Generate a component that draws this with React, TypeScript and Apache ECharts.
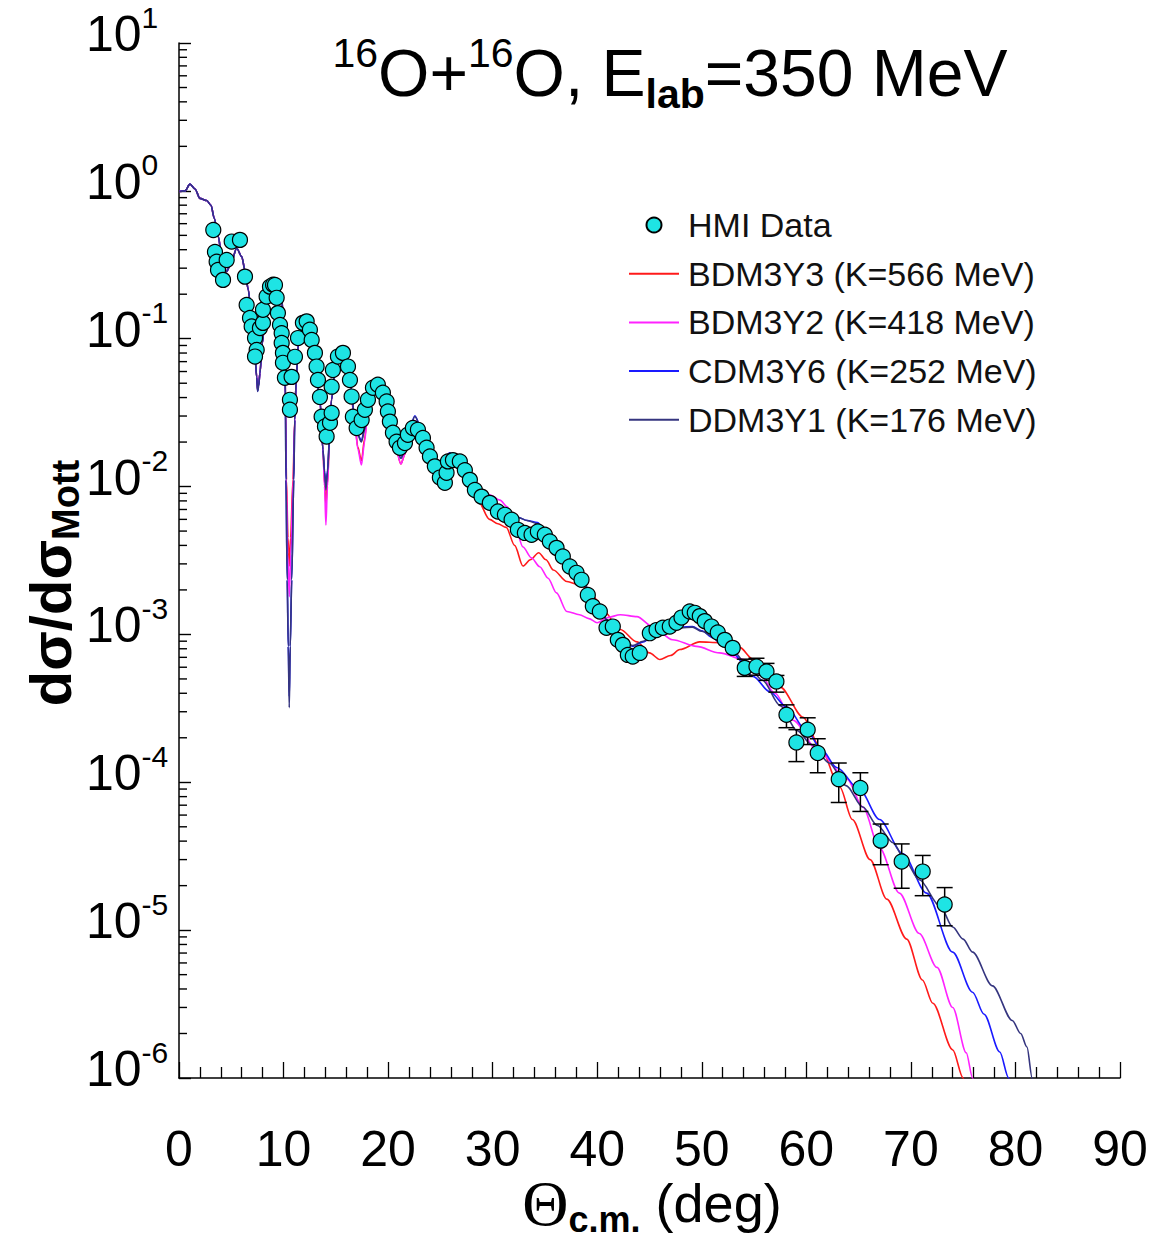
import React, { useEffect, useRef } from "react";
import * as echarts from "echarts";

// ---- tick labels -----------------------------------------------------------
const xTickValues = [0, 10, 20, 30, 40, 50, 60, 70, 80, 90];
const yDecades = [-6, -5, -4, -3, -2, -1, 0];
const yMantissas = [2, 3, 4, 5, 6, 7, 8, 9];

// ---- measured cross sections: [theta_cm (deg), dsigma/dsigma_Mott] ---------
const hmiData: number[][] = [
  [3.28, 0.544], [3.44, 0.386], [3.6, 0.332], [3.73, 0.292], [4.21, 0.25], [4.56, 0.341],
  [5.04, 0.454], [5.83, 0.466], [6.31, 0.263], [6.47, 0.169], [6.79, 0.138], [6.95, 0.121],
  [7.27, 0.101], [7.43, 0.084], [7.27, 0.0757], [7.74, 0.118], [8.03, 0.128], [8.03, 0.157],
  [8.38, 0.193], [8.7, 0.225], [9.0, 0.232], [9.18, 0.231], [9.34, 0.189], [9.46, 0.149],
  [9.66, 0.124], [9.82, 0.109], [9.82, 0.0937], [9.94, 0.0802], [9.94, 0.0687], [10.13, 0.0544],
  [10.61, 0.0386], [10.61, 0.0331], [10.77, 0.0552], [11.09, 0.0754], [11.38, 0.101], [11.85, 0.128],
  [12.21, 0.131], [12.52, 0.115], [12.69, 0.098], [13.0, 0.0802], [13.16, 0.0648], [13.29, 0.0526],
  [13.48, 0.0404], [13.64, 0.0297], [13.96, 0.0255], [14.12, 0.0218], [14.44, 0.027], [14.6, 0.0315],
  [14.6, 0.0474], [14.72, 0.0615], [15.2, 0.0757], [15.68, 0.0802], [16.16, 0.0648], [16.35, 0.0526],
  [16.51, 0.0406], [16.63, 0.0297], [16.99, 0.0249], [17.47, 0.0282], [17.78, 0.0331], [18.07, 0.0386],
  [18.55, 0.0466], [19.02, 0.0488], [19.5, 0.0431], [19.86, 0.0376], [19.98, 0.0322], [20.17, 0.0275],
  [20.46, 0.0231], [20.81, 0.0201], [21.13, 0.0183], [21.61, 0.0197], [21.89, 0.0224], [22.37, 0.0249],
  [22.85, 0.0242], [23.33, 0.0213], [23.68, 0.0183], [24.0, 0.016], [24.47, 0.0137], [24.95, 0.0115],
  [25.43, 0.0106], [25.59, 0.0124], [25.72, 0.0148], [26.2, 0.0151], [26.86, 0.0148], [27.34, 0.0129],
  [27.82, 0.0111], [28.3, 0.00948], [28.94, 0.00855], [29.73, 0.00776], [30.5, 0.00678], [31.17, 0.00644],
  [31.81, 0.00596], [32.41, 0.0051], [33.08, 0.00486], [33.72, 0.00472], [34.32, 0.00497], [34.99, 0.00472],
  [35.47, 0.00425], [36.11, 0.00385], [36.71, 0.00337], [37.38, 0.00288], [38.02, 0.00261], [38.5, 0.00234],
  [39.1, 0.00185], [39.58, 0.00155], [40.25, 0.00143], [40.89, 0.00111], [41.49, 0.00113], [41.97, 0.000919],
  [42.45, 0.00085], [42.93, 0.000727], [43.4, 0.000709], [44.07, 0.00075], [45.03, 0.00102], [45.67, 0.00107],
  [46.27, 0.00111], [46.94, 0.00113], [47.58, 0.0012], [48.06, 0.0013], [48.85, 0.00143], [49.33, 0.0014],
  [49.81, 0.00133], [50.29, 0.00123], [50.93, 0.00113], [51.53, 0.00103], [52.2, 0.000919], [52.96, 0.000811],
  [54.11, 0.000594], [55.23, 0.000606], [56.19, 0.000561], [57.14, 0.000481], [58.1, 0.000286], [59.05, 0.000186],
  [60.13, 0.000227], [61.09, 0.000158], [63.1, 0.000105], [65.17, 0.0000916], [67.11, 0.0000403],
  [69.12, 0.0000291], [71.13, 0.0000249], [73.23, 0.0000149],
];

// ---- error bars: [theta, lower, upper] -------------------------------------
const hmiErrors: number[][] = [
  [54.11, 0.00052, 0.00068], [55.23, 0.00053, 0.00069], [56.19, 0.000489, 0.000637],
  [57.14, 0.000407, 0.000528], [58.1, 0.000234, 0.000334], [59.05, 0.000138, 0.000227],
  [60.13, 0.00018, 0.000273], [61.09, 0.000116, 0.000197], [63.1, 0.000073, 0.000135],
  [65.17, 0.0000635, 0.000116], [67.11, 0.0000277, 0.0000522], [69.12, 0.0000192, 0.0000383],
  [71.13, 0.0000171, 0.000032], [73.23, 0.0000107, 0.0000194],
];

// ---- folding-model curves --------------------------------------------------
const bdm3y3: number[][] = [
  [0.0, 0.99], [0.57, 1.0], [1.05, 1.11], [1.53, 1.03], [2.0, 0.89], [2.65, 0.86], [3.06, 0.8],
  [3.38, 0.65], [3.76, 0.49], [4.08, 0.36], [4.56, 0.284], [5.0, 0.33], [5.52, 0.409], [6.0, 0.359],
  [6.31, 0.29], [6.63, 0.214], [6.95, 0.134], [7.27, 0.076], [7.43, 0.055], [7.52, 0.045], [7.62, 0.049],
  [7.74, 0.0585], [7.97, 0.093], [8.29, 0.157], [8.7, 0.219], [9.02, 0.243], [9.49, 0.231], [9.82, 0.193],
  [9.97, 0.134], [10.13, 0.08], [10.18, 0.0386], [10.28, 0.0111], [10.42, 0.0045], [10.545, 0.0029],
  [10.67, 0.0045], [10.9, 0.0111], [11.07, 0.0283], [11.21, 0.0527], [11.41, 0.091], [11.85, 0.128],
  [12.1, 0.133], [12.52, 0.105], [13.0, 0.071], [13.48, 0.0386], [13.77, 0.0177], [13.92, 0.0105],
  [14.05, 0.0075], [14.2, 0.0105], [14.39, 0.0207], [14.58, 0.0386], [15.0, 0.066], [15.49, 0.083],
  [15.9, 0.074], [16.35, 0.0515], [16.83, 0.026], [17.1, 0.0185], [17.45, 0.015], [17.75, 0.021],
  [18.07, 0.034], [18.5, 0.045], [19.02, 0.05], [19.5, 0.044], [19.98, 0.033], [20.65, 0.0195],
  [21.22, 0.0142], [21.6, 0.0165], [21.89, 0.0215], [22.56, 0.028], [23.23, 0.0232], [24.0, 0.0155],
  [24.67, 0.0125], [25.24, 0.0142], [25.9, 0.0155], [26.67, 0.0145], [27.34, 0.0128], [28.0, 0.0102],
  [28.6, 0.008], [29.7, 0.006], [30.5, 0.0056], [31.3, 0.0053], [32.1, 0.004], [32.9, 0.0029],
  [33.6, 0.0032], [34.4, 0.00357], [35.1, 0.0032], [35.8, 0.00273], [37.1, 0.00228], [38.3, 0.00216],
  [39.3, 0.002], [40.0, 0.0017], [40.5, 0.00147], [42.2, 0.00108], [43.8, 0.00089], [45.0, 0.00075],
  [46.0, 0.000676], [47.0, 0.00072], [47.9, 0.00079], [49.8, 0.00089], [51.7, 0.00088], [53.6, 0.00082],
  [54.9, 0.00068], [56.2, 0.00055], [57.5, 0.00044], [59.7, 0.000275], [61.3, 0.000174], [63.2, 0.000093],
  [64.4, 0.000056], [66.1, 0.00003], [67.7, 0.0000162], [69.6, 0.0000087], [71.1, 0.0000046],
  [72.1, 0.0000032], [74.0, 0.00000155], [75.0, 0.000001], [75.4, 0.0000007],
];

const bdm3y2: number[][] = [
  [0.0, 0.99], [0.57, 1.0], [1.05, 1.11], [1.53, 1.03], [2.0, 0.89], [2.65, 0.86], [3.06, 0.8],
  [3.38, 0.65], [3.76, 0.49], [4.08, 0.36], [4.56, 0.284], [5.0, 0.33], [5.52, 0.409], [6.0, 0.359],
  [6.31, 0.29], [6.63, 0.214], [6.95, 0.134], [7.27, 0.076], [7.43, 0.056], [7.52, 0.046], [7.62, 0.05],
  [7.74, 0.0585], [7.97, 0.093], [8.29, 0.157], [8.7, 0.219], [9.02, 0.243], [9.49, 0.231], [9.82, 0.193],
  [9.97, 0.134], [10.13, 0.08], [10.18, 0.0386], [10.26, 0.0111], [10.4, 0.0035], [10.545, 0.0018],
  [10.69, 0.0035], [10.93, 0.0111], [11.07, 0.0283], [11.21, 0.0527], [11.41, 0.091], [11.85, 0.128],
  [12.1, 0.133], [12.52, 0.105], [13.0, 0.071], [13.48, 0.0386], [13.77, 0.0177], [13.92, 0.01],
  [14.05, 0.0055], [14.2, 0.01], [14.39, 0.0207], [14.58, 0.0386], [15.0, 0.066], [15.49, 0.083],
  [15.9, 0.074], [16.35, 0.0515], [16.83, 0.026], [17.1, 0.018], [17.45, 0.014], [17.75, 0.02],
  [18.07, 0.034], [18.5, 0.045], [19.02, 0.05], [19.5, 0.044], [19.98, 0.033], [20.65, 0.0195],
  [21.22, 0.0142], [21.6, 0.0165], [21.89, 0.0215], [22.56, 0.028], [23.23, 0.0232], [24.0, 0.0155],
  [24.67, 0.0125], [25.24, 0.0145], [25.9, 0.016], [26.67, 0.015], [27.34, 0.013], [28.3, 0.0102],
  [29.0, 0.009], [29.7, 0.0088], [30.7, 0.0081], [31.4, 0.0073], [32.1, 0.0055], [32.9, 0.0039],
  [33.7, 0.0033], [34.5, 0.00287], [35.3, 0.0024], [36.1, 0.00191], [37.1, 0.00143], [38.3, 0.00136],
  [39.2, 0.00128], [40.0, 0.0012], [41.0, 0.0013], [42.2, 0.00136], [43.8, 0.00132], [45.3, 0.00113],
  [47.2, 0.00092], [49.5, 0.00083], [51.7, 0.00075], [53.9, 0.00068], [55.5, 0.00055], [57.0, 0.0004],
  [58.7, 0.000263], [61.3, 0.000158], [63.9, 0.000105], [65.4, 0.000068], [67.0, 0.000036],
  [68.9, 0.0000178], [70.8, 0.0000095], [72.5, 0.0000056], [74.0, 0.000003], [75.3, 0.00000148],
  [75.9, 0.000001], [76.3, 0.0000007],
];

const cdm3y6: number[][] = [
  [0.0, 0.99], [0.57, 1.0], [1.05, 1.11], [1.53, 1.03], [2.0, 0.89], [2.65, 0.86], [3.06, 0.8],
  [3.38, 0.65], [3.76, 0.49], [4.08, 0.36], [4.56, 0.284], [5.0, 0.33], [5.52, 0.409], [6.0, 0.359],
  [6.31, 0.29], [6.63, 0.214], [6.95, 0.134], [7.27, 0.076], [7.43, 0.055], [7.52, 0.044], [7.62, 0.048],
  [7.74, 0.0585], [7.97, 0.093], [8.29, 0.157], [8.7, 0.219], [9.02, 0.243], [9.49, 0.231], [9.82, 0.193],
  [9.97, 0.134], [10.13, 0.08], [10.18, 0.0386], [10.23, 0.0111], [10.35, 0.00234], [10.45, 0.00083],
  [10.545, 0.00038], [10.64, 0.00083], [10.78, 0.00234], [10.98, 0.0111], [11.07, 0.0283], [11.21, 0.0527],
  [11.41, 0.091], [11.85, 0.128], [12.1, 0.134], [12.52, 0.106], [13.0, 0.072], [13.48, 0.0386],
  [13.77, 0.0177], [13.92, 0.0128], [14.05, 0.0102], [14.2, 0.0128], [14.39, 0.0207], [14.58, 0.0386],
  [15.0, 0.067], [15.49, 0.084], [15.9, 0.075], [16.35, 0.0526], [16.83, 0.0283], [17.1, 0.0225],
  [17.45, 0.0205], [17.75, 0.0245], [18.07, 0.0357], [18.5, 0.046], [19.02, 0.0511], [19.5, 0.045],
  [19.98, 0.034], [20.65, 0.0207], [21.22, 0.0156], [21.6, 0.0175], [21.89, 0.0224], [22.56, 0.0301],
  [23.23, 0.0242], [24.0, 0.0164], [24.67, 0.0134], [25.24, 0.0151], [25.9, 0.0169], [26.67, 0.0151],
  [27.34, 0.0129], [28.3, 0.0095], [29.0, 0.0083], [29.73, 0.0078], [30.5, 0.0071], [31.4, 0.0066],
  [32.4, 0.0062], [33.3, 0.0059], [34.3, 0.0057], [35.0, 0.005], [35.5, 0.0043], [36.5, 0.0036],
  [37.5, 0.003], [38.3, 0.00262], [39.2, 0.002], [40.2, 0.0015], [40.9, 0.00126], [42.0, 0.001],
  [43.4, 0.00083], [44.4, 0.00089], [45.5, 0.001], [46.65, 0.00108], [48.0, 0.00112], [49.1, 0.00113],
  [50.0, 0.00106], [51.05, 0.00095], [52.0, 0.00084], [53.0, 0.00074], [54.9, 0.00052], [56.5, 0.00041],
  [58.1, 0.000324], [60.0, 0.000224], [61.5, 0.000165], [62.9, 0.000126], [65.1, 0.000089],
  [67.0, 0.000056], [69.2, 0.000033], [71.5, 0.0000178], [74.0, 0.0000071], [75.9, 0.0000038],
  [77.0, 0.0000027], [78.5, 0.0000015], [79.35, 0.000001], [79.8, 0.0000007],
];

const ddm3y1: number[][] = [
  [0.0, 0.99], [0.57, 1.0], [1.05, 1.11], [1.53, 1.03], [2.0, 0.89], [2.65, 0.86], [3.06, 0.8],
  [3.38, 0.65], [3.76, 0.49], [4.08, 0.36], [4.56, 0.284], [5.0, 0.33], [5.52, 0.409], [6.0, 0.359],
  [6.31, 0.29], [6.63, 0.214], [6.95, 0.134], [7.27, 0.076], [7.43, 0.055], [7.52, 0.044], [7.62, 0.048],
  [7.74, 0.0585], [7.97, 0.093], [8.29, 0.157], [8.7, 0.219], [9.02, 0.243], [9.49, 0.231], [9.82, 0.193],
  [9.97, 0.134], [10.13, 0.08], [10.18, 0.0386], [10.23, 0.0111], [10.35, 0.00234], [10.45, 0.00083],
  [10.545, 0.00032], [10.64, 0.00083], [10.78, 0.00234], [10.98, 0.0111], [11.07, 0.0283], [11.21, 0.0527],
  [11.41, 0.091], [11.85, 0.128], [12.1, 0.134], [12.52, 0.106], [13.0, 0.072], [13.48, 0.0386],
  [13.77, 0.0177], [13.92, 0.0125], [14.05, 0.0095], [14.2, 0.0125], [14.39, 0.0207], [14.58, 0.0386],
  [15.0, 0.067], [15.49, 0.084], [15.9, 0.075], [16.35, 0.0526], [16.83, 0.0283], [17.1, 0.0222],
  [17.45, 0.02], [17.75, 0.0242], [18.07, 0.0357], [18.5, 0.046], [19.02, 0.0511], [19.5, 0.045],
  [19.98, 0.034], [20.65, 0.0207], [21.22, 0.0155], [21.6, 0.0175], [21.89, 0.0224], [22.56, 0.0298],
  [23.23, 0.024], [24.0, 0.0163], [24.67, 0.0133], [25.24, 0.015], [25.9, 0.0168], [26.67, 0.015],
  [27.34, 0.0128], [28.3, 0.0095], [29.0, 0.0083], [29.73, 0.0078], [30.5, 0.0071], [31.4, 0.0066],
  [32.4, 0.0062], [33.3, 0.0059], [34.3, 0.0056], [35.0, 0.005], [35.5, 0.0043], [36.5, 0.0036],
  [37.5, 0.003], [38.3, 0.00262], [39.2, 0.002], [40.2, 0.0015], [40.9, 0.00126], [42.0, 0.001],
  [43.4, 0.00084], [44.4, 0.0009], [45.5, 0.001], [46.65, 0.00107], [48.0, 0.00111], [49.1, 0.00112],
  [50.0, 0.00105], [51.05, 0.00097], [51.7, 0.00088], [53.0, 0.00077], [54.5, 0.0006], [55.8, 0.00049],
  [57.5, 0.00033], [59.1, 0.000224], [60.5, 0.00018], [62.2, 0.000135], [63.8, 0.000095],
  [65.4, 0.000068], [66.8, 0.000051], [68.3, 0.000039], [69.5, 0.000029], [70.8, 0.0000219],
  [72.8, 0.0000145], [74.0, 0.0000105], [75.0, 0.0000087], [75.9, 0.0000071], [77.8, 0.0000042],
  [79.7, 0.00000245], [80.5, 0.000002], [81.1, 0.00000162], [81.6, 0.000001], [81.9, 0.0000007],
];

const seriesNames = [
  "HMI Data",
  "BDM3Y3 (K=566 MeV)",
  "BDM3Y2 (K=418 MeV)",
  "CDM3Y6 (K=252 MeV)",
  "DDM3Y1 (K=176 MeV)",
];
const curveColors = ["#ff1a1a", "#ff22ff", "#1a1aff", "#35357f"];

const SANS = 'Arial, "Liberation Sans", Helvetica, sans-serif';
const SERIF = '"Liberation Serif", "Times New Roman", serif';

function buildOption() {
  const yMinorTicks: number[][] = [];
  yDecades.forEach((d) =>
    yMantissas.forEach((m) => yMinorTicks.push([0, m * Math.pow(10, d)]))
  );

  const curves = [bdm3y3, bdm3y2, cdm3y6, ddm3y1].map((data, i) => ({
    type: "line",
    name: seriesNames[i + 1],
    data,
    symbol: "none",
    showSymbol: false,
    smooth: 0.3,
    smoothMonotone: "x",
    lineStyle: { color: curveColors[i], width: 1.6 },
    itemStyle: { color: curveColors[i] },
    emphasis: { disabled: true },
    z: 2,
  }));

  // legend rows: the data row keeps its marker, model rows show only a line
  const legendData = seriesNames.map((name, i) =>
    i === 0 ? { name } : { name, itemStyle: { opacity: 0 } }
  );

  return {
    animation: false,
    backgroundColor: "#ffffff",
    grid: { left: 179, top: 43, width: 941, height: 1035, containLabel: false },
    legend: {
      data: legendData,
      orient: "vertical",
      left: 628,
      top: 208,
      padding: 0,
      itemWidth: 50,
      itemHeight: 15,
      itemGap: 14.7,
      selectedMode: false,
      textStyle: {
        fontSize: 34,
        fontFamily: SANS,
        color: "#111",
        lineHeight: 34,
        padding: [0, 0, 0, 4],
      },
    },
    xAxis: {
      type: "value",
      min: 0,
      max: 90,
      interval: 10,
      axisLine: { show: true, onZero: false, lineStyle: { color: "#000", width: 1.5 } },
      axisTick: { show: true, inside: true, length: 16, lineStyle: { color: "#000", width: 1.3 } },
      minorTick: { show: true, splitNumber: 5, length: 11, lineStyle: { color: "#000", width: 1.3 } },
      splitLine: { show: false },
      axisLabel: {
        color: "#000",
        fontSize: 50,
        fontFamily: SANS,
        margin: 46,
        formatter: (v: number) => (xTickValues.includes(v) ? String(v) : ""),
      },
    },
    yAxis: {
      type: "log",
      logBase: 10,
      min: 1e-6,
      max: 10,
      splitNumber: 7,
      axisLine: { show: true, onZero: false, lineStyle: { color: "#000", width: 1.5 } },
      axisTick: { show: true, inside: true, length: 12, lineStyle: { color: "#000", width: 1.4 } },
      splitLine: { show: false },
      axisLabel: {
        align: "left",
        margin: 93,
        padding: [0, 0, 18, 0],
        color: "#000",
        formatter: (v: number) => `{b|10}{s|${Math.round(Math.log10(v))}}`,
        rich: {
          b: { fontSize: 50, fontFamily: SANS, color: "#000", lineHeight: 64 },
          s: { fontSize: 30, fontFamily: SANS, color: "#000", verticalAlign: "top" },
        },
      },
    },
    graphic: [
      {
        type: "text",
        x: 670,
        y: 73,
        style: {
          text: "{sup|16}{m|O+}{sup|16}{m|O, E}{sub|lab}{m|=350 MeV}",
          align: "center",
          verticalAlign: "middle",
          textAlign: "center",
          textVerticalAlign: "middle",
          rich: {
            m: { fontSize: 66, fontFamily: SANS, fill: "#000", lineHeight: 82 },
            sup: { fontSize: 41, fontFamily: SANS, fill: "#000", verticalAlign: "top" },
            sub: { fontSize: 41, fontFamily: SANS, fontWeight: "bold", fill: "#000", verticalAlign: "bottom" },
          },
        },
      },
      {
        type: "text",
        x: 50,
        y: 583,
        rotation: Math.PI / 2,
        style: {
          text: "{m|dσ/dσ}{s|Mott}",
          align: "center",
          verticalAlign: "middle",
          textAlign: "center",
          textVerticalAlign: "middle",
          rich: {
            m: { fontSize: 58, fontFamily: SANS, fontWeight: "bold", fill: "#000", lineHeight: 70 },
            s: { fontSize: 38, fontFamily: SANS, fontWeight: "bold", fill: "#000", verticalAlign: "bottom" },
          },
        },
      },
      {
        type: "text",
        x: 652,
        y: 1203,
        style: {
          text: "{t|Θ}{s|c.m.}{m| (deg)}",
          align: "center",
          verticalAlign: "middle",
          textAlign: "center",
          textVerticalAlign: "middle",
          rich: {
            t: { fontSize: 64, fontFamily: SERIF, fill: "#000", lineHeight: 68 },
            s: { fontSize: 36, fontFamily: SANS, fontWeight: "bold", fill: "#000", verticalAlign: "bottom", lineHeight: 40 },
            m: { fontSize: 54, fontFamily: SANS, fill: "#000", lineHeight: 68 },
          },
        },
      },
    ],
    series: [
      ...curves,
      {
        type: "custom",
        name: "y minor ticks",
        data: yMinorTicks,
        silent: true,
        clip: false,
        z: 6,
        renderItem: (_p: any, api: any) => {
          const pt = api.coord([0, api.value(1)]);
          return {
            type: "line",
            shape: { x1: pt[0], y1: pt[1], x2: pt[0] + 8, y2: pt[1] },
            style: { stroke: "#000", lineWidth: 1.4 },
          };
        },
      },
      {
        type: "custom",
        name: "HMI errors",
        data: hmiErrors,
        encode: { x: 0, y: [1, 2] },
        silent: true,
        z: 3,
        renderItem: (_p: any, api: any) => {
          const x = api.value(0);
          const lo = api.coord([x, api.value(1)]);
          const hi = api.coord([x, api.value(2)]);
          const w = 8;
          const st = { stroke: "#000", lineWidth: 1.5 };
          return {
            type: "group",
            children: [
              { type: "line", shape: { x1: lo[0], y1: lo[1], x2: hi[0], y2: hi[1] }, style: st },
              { type: "line", shape: { x1: lo[0] - w, y1: lo[1], x2: lo[0] + w, y2: lo[1] }, style: st },
              { type: "line", shape: { x1: hi[0] - w, y1: hi[1], x2: hi[0] + w, y2: hi[1] }, style: st },
            ],
          };
        },
      },
      {
        type: "scatter",
        name: seriesNames[0],
        data: hmiData,
        symbol: "circle",
        symbolSize: 15,
        itemStyle: { color: "#1ee4e4", borderColor: "#000", borderWidth: 1.2, opacity: 1 },
        emphasis: { disabled: true },
        z: 5,
      },
    ],
  };
}

export default function App() {
  const ref = useRef<HTMLDivElement>(null);
  useEffect(() => {
    if (!ref.current) return;
    const chart = echarts.init(ref.current, null, { renderer: "svg" });
    chart.setOption(buildOption() as any);
    return () => chart.dispose();
  }, []);
  return (
    <div
      ref={ref}
      style={{ position: "fixed", left: 0, top: 0, width: 1155, height: 1240, background: "#fff" }}
    />
  );
}
